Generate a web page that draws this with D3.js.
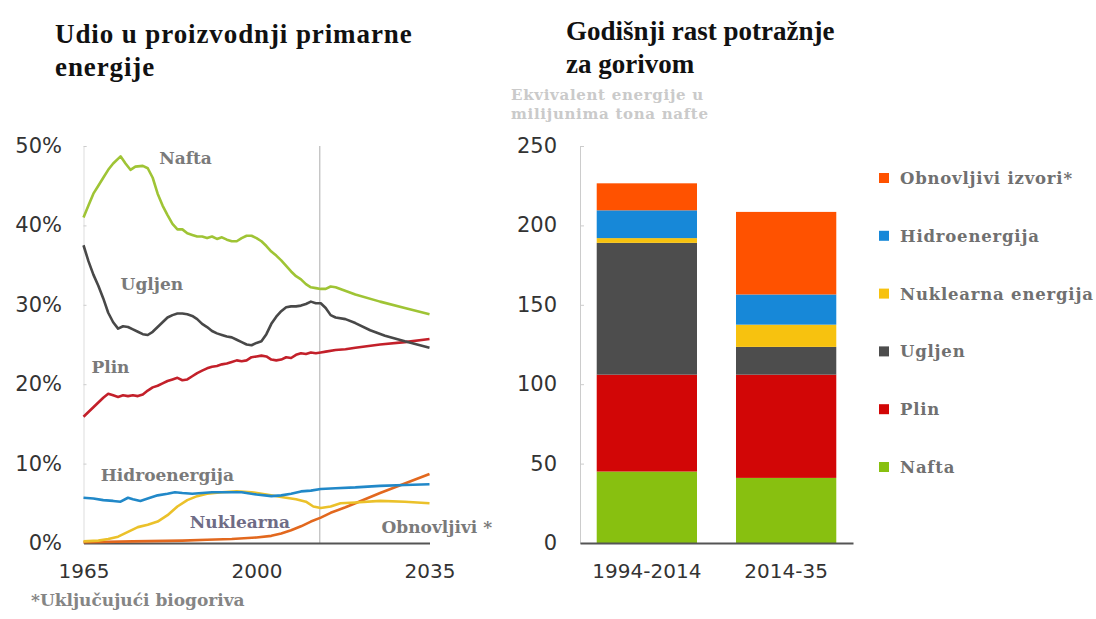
<!DOCTYPE html>
<html><head><meta charset="utf-8">
<script src="https://cdn.jsdelivr.net/npm/d3@7"></script>
<style>
html,body{margin:0;padding:0;background:#fff;}
svg{display:block;}
</style></head>
<body>
<svg id="c" width="1096" height="619"></svg>
<script>
// ---------- LEFT CHART DATA: share of primary energy (%) ----------
const nafta = [[1965,41.0],[1966,42.5],[1967,44.0],[1968,45.0],[1969,46.0],[1970,47.0],[1971,47.8],[1972.5,48.7],[1973.5,47.8],[1974.5,47.0],[1975.5,47.4],[1977,47.5],[1978,47.2],[1979,46.0],[1980,44.0],[1981,42.5],[1982,41.3],[1983,40.2],[1984,39.5],[1985,39.5],[1986,39.0],[1987,38.8],[1988,38.6],[1989,38.6],[1990,38.4],[1991,38.6],[1992,38.3],[1993,38.5],[1994,38.2],[1995,38.0],[1996,38.0],[1997,38.4],[1998,38.7],[1999,38.7],[2000,38.4],[2001,38.0],[2002,37.4],[2003,36.7],[2004,36.2],[2005,35.6],[2006,34.9],[2007,34.2],[2008,33.6],[2009,33.2],[2010,32.6],[2011,32.2],[2012,32.1],[2013,32.0],[2014,32.0],[2015,32.3],[2016,32.2],[2020,31.3],[2025,30.4],[2030,29.6],[2035,28.8]];
const ugljen = [[1965,37.5],[1966,35.5],[1967,33.8],[1968,32.4],[1969,30.8],[1970,29.0],[1971,27.8],[1972,27.0],[1973,27.3],[1974,27.2],[1975,26.9],[1976,26.6],[1977,26.3],[1978,26.2],[1979,26.6],[1980,27.2],[1981,27.8],[1982,28.4],[1983,28.7],[1984,28.9],[1985,28.9],[1986,28.8],[1987,28.6],[1988,28.2],[1989,27.6],[1990,27.2],[1991,26.7],[1992,26.4],[1993,26.2],[1994,26.0],[1995,25.9],[1996,25.6],[1997,25.3],[1998,25.0],[1999,24.9],[2000,25.2],[2001,25.4],[2002,26.3],[2003,27.6],[2004,28.5],[2005,29.2],[2006,29.7],[2007,29.8],[2008,29.8],[2009,29.9],[2010,30.1],[2011,30.4],[2012,30.2],[2013,30.2],[2014,29.6],[2015,28.7],[2016,28.4],[2018,28.2],[2020,27.7],[2023,26.8],[2026,26.1],[2030,25.4],[2035,24.6]];
const plin = [[1965,15.9],[1966,16.5],[1967,17.1],[1968,17.7],[1969,18.3],[1970,18.8],[1971,18.6],[1972,18.4],[1973,18.6],[1974,18.5],[1975,18.6],[1976,18.5],[1977,18.7],[1978,19.2],[1979,19.6],[1980,19.8],[1981,20.1],[1982,20.4],[1983,20.6],[1984,20.8],[1985,20.5],[1986,20.6],[1987,21.0],[1988,21.4],[1989,21.7],[1990,22.0],[1991,22.2],[1992,22.3],[1993,22.5],[1994,22.6],[1995,22.8],[1996,23.0],[1997,22.9],[1998,23.0],[1999,23.4],[2000,23.5],[2001,23.6],[2002,23.5],[2003,23.1],[2004,23.0],[2005,23.1],[2006,23.4],[2007,23.3],[2008,23.7],[2009,23.9],[2010,23.8],[2011,24.0],[2012,23.9],[2013,24.0],[2014,24.1],[2016,24.3],[2018,24.4],[2020,24.6],[2025,25.0],[2030,25.3],[2035,25.7]];
const hidro = [[1965,5.7],[1967,5.6],[1969,5.4],[1971,5.3],[1972.5,5.2],[1974,5.7],[1975,5.5],[1976.5,5.3],[1978,5.6],[1980,6.0],[1982,6.2],[1983.5,6.4],[1985,6.3],[1987,6.2],[1989,6.3],[1991,6.4],[1994,6.4],[1997,6.4],[2000,6.1],[2003,5.9],[2005,6.0],[2007,6.2],[2009,6.5],[2011,6.6],[2013,6.8],[2016,6.9],[2020,7.0],[2025,7.2],[2030,7.3],[2035,7.4]];
const nuklearna = [[1965,0.2],[1968,0.3],[1970,0.5],[1972,0.8],[1974,1.4],[1976,2.0],[1978,2.3],[1980,2.7],[1982,3.5],[1984,4.6],[1986,5.4],[1988,5.9],[1990,6.2],[1993,6.4],[1996,6.5],[1999,6.4],[2002,6.1],[2005,5.8],[2008,5.5],[2010,5.2],[2011.5,4.6],[2013,4.4],[2015,4.6],[2017,5.0],[2020,5.1],[2025,5.3],[2030,5.2],[2035,5.0]];
const obnovljivi = [[1965,0.1],[1975,0.2],[1985,0.3],[1990,0.4],[1995,0.5],[2000,0.7],[2003,0.9],[2005,1.2],[2007,1.6],[2009,2.1],[2011,2.7],[2013,3.2],[2015,3.8],[2018,4.5],[2020,5.0],[2025,6.3],[2030,7.5],[2035,8.7]];
const leftYTicks = [0,10,20,30,40,50];
const leftXTicks = [1965,2000,2035];
const projectionStart = 2012.8;

// ---------- RIGHT CHART DATA: annual demand growth (Mtoe) ----------
const periods = ["1994-2014","2014-35"];
const fuels = ["Nafta","Plin","Ugljen","Nuklearna energija","Hidroenergija","Obnovljivi izvori*"];
const growthNafta      = [45, 41];
const growthPlin       = [61, 65];
const growthUgljen     = [83, 17.5];
const growthNuklearna  = [3, 14];
const growthHidro      = [17.5, 19];
const growthObnovljivi = [17, 52];
const rightYTicks = [0,50,100,150,200,250];

// ---------- drawing ----------
const svg = d3.select("#c");
svg.append("rect").attr("width",1096).attr("height",619).attr("fill","#fff");
const serif = "'Liberation Serif','Times New Roman',serif";
const wideSerif = "'DejaVu Serif',serif";
const sans = "'DejaVu Sans',sans-serif";

// Titles
function title(x, y0, lines, ls){
  const t = svg.append("text").attr("x",x).attr("y",y0)
    .attr("font-family",serif).attr("font-weight","bold").attr("font-size",27)
    .attr("letter-spacing",ls).attr("fill","#111");
  lines.forEach((l,i)=>t.append("tspan").attr("x",x).attr("dy",i?33:0).text(l));
}
title(55,43,["Udio u proizvodnji primarne","energije"],0.9);
title(566,40,["Godišnji rast potražnje","za gorivom"],0);
const sub = svg.append("text").attr("font-family",wideSerif).attr("font-weight","bold")
  .attr("font-size",15).attr("fill","#cacaca").attr("letter-spacing",0.7);
sub.append("tspan").attr("x",511).attr("y",100).text("Ekvivalent energije u");
sub.append("tspan").attr("x",511).attr("y",119).text("milijunima tona nafte");

// Left chart scales
const x = d3.scaleLinear().domain([1965,2035]).range([83.5,429.5]);
const y = d3.scaleLinear().domain([0,50]).range([543,146]);

// left axis (faint)
const gyl = svg.append("g").attr("transform","translate(83.5,0)")
  .call(d3.axisRight(y).tickValues(leftYTicks).tickSize(3).tickFormat(""));
gyl.select(".domain").attr("stroke","#ddd");
gyl.selectAll(".tick line").attr("stroke","#ccc");
svg.append("g").selectAll("text").data(leftYTicks).join("text")
  .attr("x",62).attr("y",d=>y(d)+7).attr("text-anchor","end")
  .attr("font-family",sans).attr("font-size",21).attr("fill","#333")
  .text(d=>d+"%");

// projection divider
svg.append("line").attr("x1",x(projectionStart)).attr("x2",x(projectionStart))
  .attr("y1",y(50)).attr("y2",y(0)).attr("stroke","#bbb").attr("stroke-width",1.2);

// x axis
const gxl = svg.append("g").attr("transform","translate(0,543)")
  .call(d3.axisBottom(x).tickValues(leftXTicks).tickSize(0).tickFormat(d=>d).tickPadding(21));
gxl.select(".domain").attr("stroke","#555").attr("stroke-width",2);
gxl.selectAll("text").attr("font-family",sans).attr("font-size",20).attr("fill","#333");

const line = d3.line().x(d=>x(d[0])).y(d=>y(d[1]));
const seriesL = [
  {d:obnovljivi, c:"#e2681e"},
  {d:nuklearna, c:"#ebc12a"},
  {d:hidro, c:"#2188c8"},
  {d:plin, c:"#c3202a"},
  {d:ugljen, c:"#484848"},
  {d:nafta, c:"#9fc435"}
];
svg.append("g").selectAll("path").data(seriesL).join("path")
  .attr("d",s=>line(s.d)).attr("fill","none").attr("stroke",s=>s.c)
  .attr("stroke-width",2.6).attr("stroke-linejoin","round");

const labelsL = [
  {t:"Nafta", yr:1980.3, v:47.7, c:"#7a7a7a"},
  {t:"Ugljen", yr:1972.5, v:31.9, c:"#7a7a7a"},
  {t:"Plin", yr:1966.6, v:21.4, c:"#7a7a7a"},
  {t:"Hidroenergija", yr:1968.5, v:7.8, c:"#7a7a7a"},
  {t:"Nuklearna", yr:1986.5, v:1.9, c:"#6f6c86"},
  {t:"Obnovljivi *", yr:2025.3, v:1.2, c:"#7a7a7a"}
];
svg.append("g").selectAll("text").data(labelsL).join("text")
  .attr("x",d=>x(d.yr)).attr("y",d=>y(d.v))
  .attr("font-family",wideSerif).attr("font-weight","bold").attr("font-size",17)
  .attr("fill",d=>d.c).text(d=>d.t);

svg.append("text").attr("x",31).attr("y",606).attr("font-family",wideSerif)
  .attr("font-weight","bold").attr("font-size",17).attr("fill","#858585")
  .text("*Uključujući biogoriva");

// Right chart
const xb = d3.scaleBand().domain(periods).range([580,853]).paddingInner(0.28).paddingOuter(0.12);
const yb = d3.scaleLinear().domain([0,250]).range([543,146]);
const rows = periods.map((p,i)=>({period:p,
  "Nafta":growthNafta[i],"Plin":growthPlin[i],"Ugljen":growthUgljen[i],
  "Nuklearna energija":growthNuklearna[i],"Hidroenergija":growthHidro[i],
  "Obnovljivi izvori*":growthObnovljivi[i]}));
const stack = d3.stack().keys(fuels)(rows);
const barColors = {"Nafta":"#88c010","Plin":"#d20606","Ugljen":"#4d4d4d",
  "Nuklearna energija":"#f7c20f","Hidroenergija":"#1788d8","Obnovljivi izvori*":"#ff5200"};

const gyr = svg.append("g").attr("transform","translate(580,0)")
  .call(d3.axisRight(yb).tickValues(rightYTicks).tickSize(4).tickFormat(""));
gyr.select(".domain").attr("stroke","#ccc");
gyr.selectAll(".tick line").attr("stroke","#ccc");
svg.append("g").selectAll("text").data(rightYTicks).join("text")
  .attr("x",557).attr("y",d=>yb(d)+7).attr("text-anchor","end")
  .attr("font-family",sans).attr("font-size",21).attr("fill","#333").text(d=>d);

svg.append("g").selectAll("g").data(stack).join("g")
  .attr("fill",s=>barColors[s.key])
  .selectAll("rect").data(s=>s).join("rect")
  .attr("x",d=>xb(d.data.period)).attr("width",xb.bandwidth())
  .attr("y",d=>yb(d[1])).attr("height",d=>yb(d[0])-yb(d[1]));

const gxr = svg.append("g").attr("transform","translate(0,543)")
  .call(d3.axisBottom(xb).tickSize(0).tickPadding(21));
gxr.select(".domain").attr("stroke","#555").attr("stroke-width",2);
gxr.selectAll("text").attr("font-family",sans).attr("font-size",20).attr("fill","#333");

// Legend
const legendOrder = fuels.slice().reverse();
const lg = svg.append("g").selectAll("g").data(legendOrder).join("g")
  .attr("transform",(d,i)=>`translate(879,${178+i*57.8})`);
lg.append("rect").attr("x",0).attr("y",-5).attr("width",10).attr("height",10)
  .attr("fill",d=>barColors[d]);
lg.append("text").attr("x",21).attr("y",6).attr("font-family",wideSerif)
  .attr("font-weight","bold").attr("font-size",16.5).attr("letter-spacing",0.8)
  .attr("fill","#707070").text(d=>d);
</script>
</body></html>
